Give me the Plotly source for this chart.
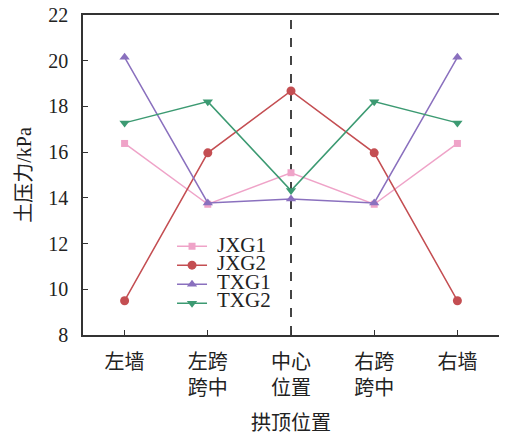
import plotly.graph_objects as go

categories = ["左墙", "左跨<br>跨中", "中心<br>位置", "右跨<br>跨中", "右墙"]
jxg1 = [16.38, 13.72, 15.10, 13.72, 16.38]
jxg2 = [9.50, 15.97, 18.68, 15.97, 9.50]
txg1 = [20.15, 13.78, 13.95, 13.78, 20.15]
txg2 = [17.28, 18.21, 14.32, 18.21, 17.28]
series_names = ["JXG1", "JXG2", "TXG1", "TXG2"]
y_ticks = [8, 10, 12, 14, 16, 18, 20, 22]

FONT = "Times New Roman, Liberation Serif, Noto Sans CJK SC, serif"

styles = [
    dict(color="#EFA3C8", symbol="square", size=7),
    dict(color="#C44E52", symbol="circle", size=9),
    dict(color="#8A70BE", symbol="triangle-up", size=9),
    dict(color="#3C9A72", symbol="triangle-down", size=9),
]

fig = go.Figure()
for name, vals, st in zip(series_names, [jxg1, jxg2, txg1, txg2], styles):
    fig.add_trace(go.Scatter(
        x=list(range(len(categories))), y=vals, name="", legendgroup=name,
        hovertemplate=name + ": %{y}<extra></extra>", mode="lines+markers",
        line=dict(color=st["color"], width=1.5),
        marker=dict(color=st["color"], symbol=st["symbol"], size=st["size"]),
    ))

fig.add_shape(type="line", xref="x", yref="y", x0=2, x1=2, y0=y_ticks[0], y1=y_ticks[-1],
              line=dict(color="#444444", width=2, dash="dash"), layer="below")

# legend names drawn as annotations (larger font with tight row spacing)
leg_top = 0.281
leg_step = 0.0575
for i, name in enumerate(series_names):
    fig.add_annotation(xref="paper", yref="paper", x=0.318, y=leg_top - i * leg_step,
                       xanchor="left", yanchor="middle", text=name, showarrow=False,
                       font=dict(family=FONT, size=21, color="#222222"))

tickfont = dict(family=FONT, size=20, color="#222222")
fig.update_layout(
    width=507, height=436,
    margin=dict(l=75, r=16, t=7, b=109, autoexpand=False),
    plot_bgcolor="white", paper_bgcolor="white",
    font=dict(family=FONT, size=20, color="#222222"),
    showlegend=True,
    legend=dict(x=0.214, y=0.323, xanchor="left", yanchor="top",
                bgcolor="rgba(0,0,0,0)", font=dict(size=12, family=FONT),
                tracegroupgap=0),
    xaxis=dict(
        range=[-0.5, 4.5], tickmode="array", tickvals=list(range(len(categories))),
        ticktext=categories, ticks="inside", ticklen=5, tickcolor="#333333",
        tickfont=tickfont, automargin=False, ticklabelstandoff=8,
        ticklabeloverflow="allow",
        showline=True, linecolor="#333333", linewidth=1.5, mirror=True,
        showgrid=False, zeroline=False,
        title=dict(text="拱顶位置", font=dict(size=20, family=FONT), standoff=18),
    ),
    yaxis=dict(
        range=[y_ticks[0], y_ticks[-1]], tickmode="array", tickvals=y_ticks,
        ticks="inside", ticklen=5, tickcolor="#333333", ticklabelstandoff=9,
        tickfont=tickfont, automargin=False, ticklabeloverflow="allow",
        showline=True, linecolor="#333333", linewidth=1.5, mirror=True,
        showgrid=False, zeroline=False,
        title=dict(text="土压力/kPa", font=dict(size=20, family=FONT), standoff=11),
    ),
)

fig.write_html("out.html")
